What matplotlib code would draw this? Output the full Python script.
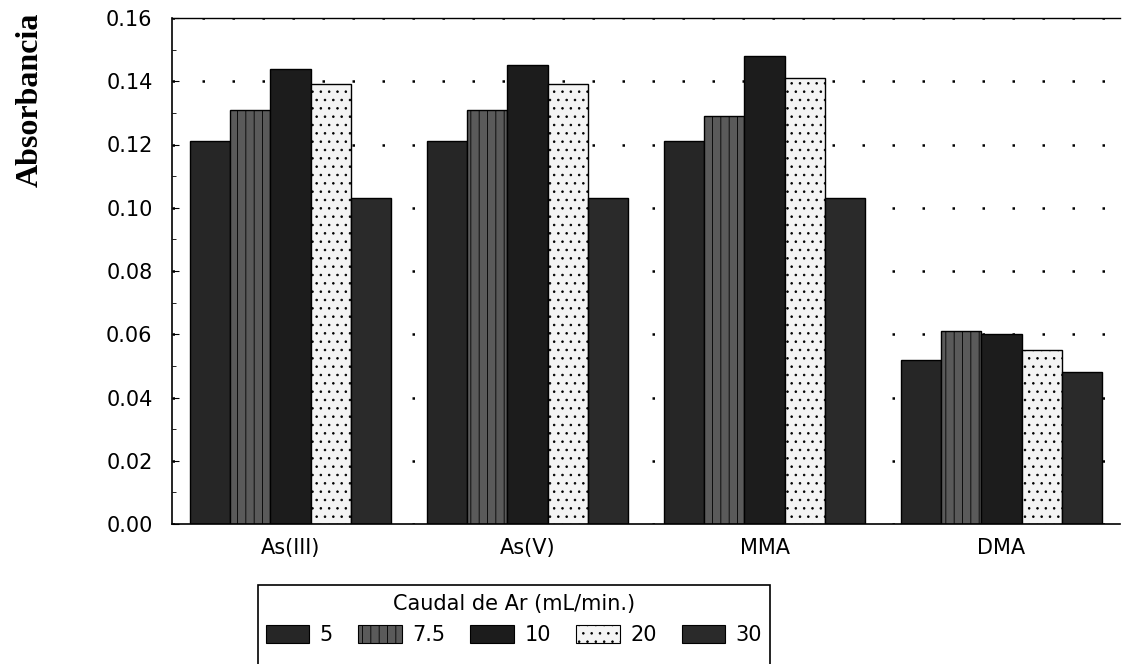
import numpy as np
import matplotlib
matplotlib.use("Agg")
import matplotlib.pyplot as plt
from matplotlib.patches import Patch, Rectangle

species = ["As(III)", "As(V)", "MMA", "DMA"]
flow_labels = ["5", "7.5", "10", "20", "30"]
flow_5 = [0.121, 0.121, 0.121, 0.052]
flow_7_5 = [0.131, 0.131, 0.129, 0.061]
flow_10 = [0.144, 0.145, 0.148, 0.060]
flow_20 = [0.139, 0.139, 0.141, 0.055]
flow_30 = [0.103, 0.103, 0.103, 0.048]
yticks = [0.00, 0.02, 0.04, 0.06, 0.08, 0.10, 0.12, 0.14, 0.16]

series = [flow_5, flow_7_5, flow_10, flow_20, flow_30]
styles = [
    dict(color="#262626", hatch=None),
    dict(color="#5a5a5a", hatch="||"),
    dict(color="#1c1c1c", hatch=None),
    dict(color="#f4f4f4", hatch=".."),
    dict(color="#2a2a2a", hatch=None),
]

plt.rcParams["hatch.color"] = "#bbbbbb"
plt.rcParams["hatch.linewidth"] = 0.6

fig = plt.figure(figsize=(11.23, 6.64), dpi=100)
ax = fig.add_axes([172 / 1123, 1 - 524 / 664, 948 / 1123, 506 / 664])

x = np.arange(len(species))
width = 0.17
for i, (vals, st) in enumerate(zip(series, styles)):
    ax.bar(
        x + (i - 2) * width,
        vals,
        width=width,
        color=st["color"],
        hatch=st["hatch"],
        edgecolor="black",
        linewidth=1.0,
        zorder=2,
    )

ax.set_xlim(-0.5, 3.5)
ax.set_ylim(0, 0.16)
ax.set_yticks(yticks)
ax.set_yticklabels([f"{v:.2f}" for v in yticks], fontsize=15)
ax.set_yticks(np.arange(0.01, 0.16, 0.02), minor=True)
ax.set_xticks(x)
ax.set_xticklabels(species, fontsize=15)
ax.tick_params(axis="x", length=0, pad=10)
ax.tick_params(axis="y", which="major", direction="in", length=5, pad=14)
ax.tick_params(axis="y", which="minor", direction="in", length=3)
ax.grid(axis="y", linestyle=(0, (1, 11)), color="black", linewidth=1.8, zorder=0)
ax.spines["right"].set_visible(False)
ax.spines["top"].set_linewidth(1.0)
ax.spines["left"].set_linewidth(1.2)
ax.spines["bottom"].set_linewidth(1.2)

fig.text(30 / 1123, 1 - 100 / 664, "Absorbancia", rotation=90, ha="center", va="center",
         fontsize=23, fontweight="bold", family="Liberation Serif")

# legend frame runs off the bottom of the page, as in the scan
fig.add_artist(Rectangle((258 / 1123, -0.05), (770 - 258) / 1123, 0.05 + 79 / 664,
                         transform=fig.transFigure, fill=False, edgecolor="black",
                         linewidth=1.2, clip_on=False))

handles = [
    Patch(facecolor=st["color"], hatch=st["hatch"], edgecolor="black", linewidth=0.8)
    for st in styles
]
leg = fig.legend(
    handles,
    flow_labels,
    title="Caudal de Ar (mL/min.)",
    ncol=5,
    loc="upper center",
    bbox_to_anchor=(514 / 1123, 1 - 590 / 664),
    fontsize=15,
    title_fontsize=15,
    frameon=False,
    handlelength=2.1,
    handleheight=1.0,
    columnspacing=1.2,
    handletextpad=0.5,
    borderpad=0.2,
    borderaxespad=0,
)

fig.savefig("out.png", dpi=100)
